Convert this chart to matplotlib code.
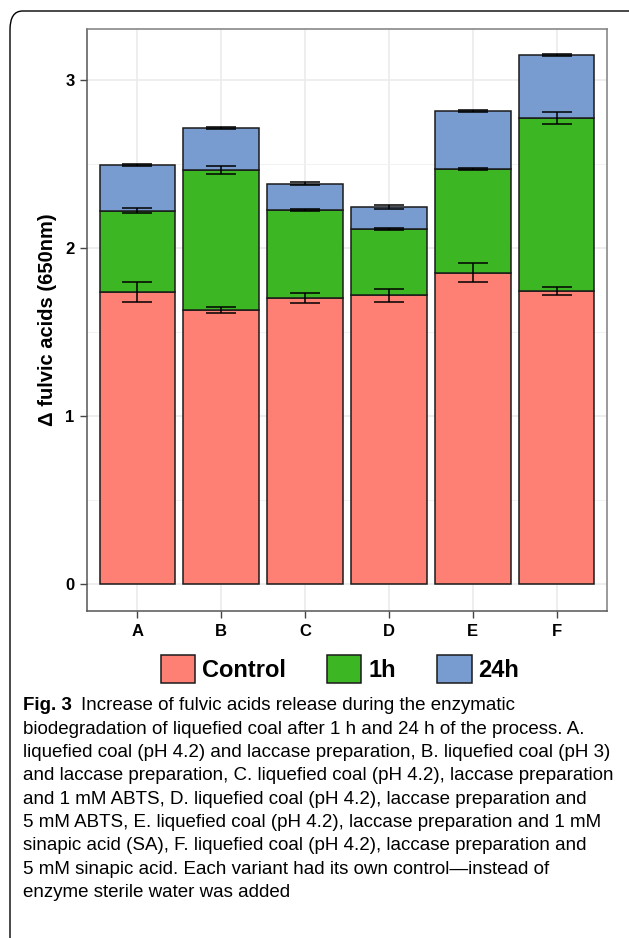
import numpy as np
import matplotlib
matplotlib.use("Agg")
import matplotlib.pyplot as plt
from matplotlib.patches import FancyBboxPatch, Patch

# Valores lidos por variante (incremento de cada etapa)
variantes = ["A", "B", "C", "D", "E", "F"]
controle = [1.738, 1.631, 1.704, 1.718, 1.853, 1.744]
total_1h = [2.222, 2.466, 2.224, 2.113, 2.468, 2.774]
total_24h = [2.494, 2.714, 2.383, 2.244, 2.815, 3.149]
erro_controle = [0.060, 0.020, 0.030, 0.040, 0.058, 0.021]
erro_1h = [0.016, 0.024, 0.006, 0.006, 0.006, 0.036]
erro_24h = [0.006, 0.004, 0.008, 0.010, 0.006, 0.005]

legendas = ["Control", "1h", "24h"]
cores = ["#FE7F74", "#3DB623", "#789BD0"]

legenda_fig = [
    "Increase of fulvic acids release during the enzymatic",
    "biodegradation of liquefied coal after 1 h and 24 h of the process. A.",
    "liquefied coal (pH 4.2) and laccase preparation, B. liquefied coal (pH 3)",
    "and laccase preparation, C. liquefied coal (pH 4.2), laccase preparation",
    "and 1 mM ABTS, D. liquefied coal (pH 4.2), laccase preparation and",
    "5 mM ABTS, E. liquefied coal (pH 4.2), laccase preparation and 1 mM",
    "sinapic acid (SA), F. liquefied coal (pH 4.2), laccase preparation and",
    "5 mM sinapic acid. Each variant had its own control\u2014instead of",
    "enzyme sterile water was added",
]

W, H = 629, 938
fig = plt.figure(figsize=(W / 100, H / 100), dpi=100)

# Moldura arredondada da figura
moldura = FancyBboxPatch((10 / W, 1 - 990 / H), 640 / W, 979 / H,
                         boxstyle="round,pad=0,rounding_size=0.02",
                         transform=fig.transFigure, fill=False,
                         edgecolor="black", linewidth=1.0)
fig.patches.append(moldura)

ax = fig.add_axes([87 / W, 1 - 611 / H, (607 - 87) / W, (611 - 29) / H])

x = np.arange(1, len(variantes) + 1)
c = np.array(controle)
t1 = np.array(total_1h)
t24 = np.array(total_24h)
larg = 0.9

ax.bar(x, c, width=larg, color=cores[0], edgecolor="#1a1a1a", linewidth=1.1, zorder=3)
ax.bar(x, t1 - c, bottom=c, width=larg, color=cores[1], edgecolor="#1a1a1a", linewidth=1.1, zorder=3)
ax.bar(x, t24 - t1, bottom=t1, width=larg, color=cores[2], edgecolor="#1a1a1a", linewidth=1.1, zorder=3)

for topo, err in [(c, erro_controle), (t1, erro_1h), (t24, erro_24h)]:
    ax.errorbar(x, topo, yerr=err, fmt="none", ecolor="black", elinewidth=1.1,
                capsize=10.5, capthick=1.1, zorder=4)

ax.set_xlim(0.4, 6.6)
ax.set_ylim((584 - 611) / 168, (584 - 29) / 168)
ax.set_xticks(x)
ax.set_xticklabels(variantes)
ax.set_yticks([0, 1, 2, 3])
ax.set_yticks([0.5, 1.5, 2.5], minor=True)

ax.grid(which="major", color="#EBEBEB", linewidth=1.2, zorder=0)
ax.grid(which="minor", axis="y", color="#F2F2F2", linewidth=0.7, zorder=0)
ax.set_axisbelow(True)
for lado in ax.spines.values():
    lado.set_color("#7F7F7F")
    lado.set_linewidth(1.1)
ax.spines["left"].set_color("#555555")
ax.spines["bottom"].set_color("#555555")

ax.tick_params(axis="both", which="major", length=5, width=1, color="#444444",
               labelsize=12, pad=4)
ax.tick_params(axis="y", which="minor", length=0)
for rot in ax.get_xticklabels() + ax.get_yticklabels():
    rot.set_fontweight("bold")
    rot.set_family("Liberation Sans")

ax.set_ylabel("\u0394 fulvic acids (650nm)", fontsize=14.5, fontweight="bold",
              family="Liberation Sans", labelpad=6)

# Legenda abaixo do painel
handles = [Patch(facecolor=cor, edgecolor="#1a1a1a", linewidth=1.1) for cor in cores]
fig.legend(handles, legendas, loc="center", bbox_to_anchor=(340 / W, 1 - 669 / H),
           ncol=3, frameon=False, handlelength=1.45, handleheight=1.45,
           handletextpad=0.3, columnspacing=1.75,
           prop={"family": "Liberation Sans", "weight": "bold", "size": 17})

# Texto da legenda da figura
fam = ["Liberation Sans"]
tam = 13.5
x0 = 23
y0 = 706
passo = 23.3
for i, linha in enumerate(legenda_fig):
    yy = 1 - (y0 + i * passo) / H
    if i == 0:
        t = fig.text(x0 / W, yy, "Fig. 3", fontsize=tam, fontweight="bold",
                     family=fam, va="center", ha="left")
        fig.canvas.draw()
        bb = t.get_window_extent()
        fig.text((bb.x1 + 9) / W, yy, linha, fontsize=tam, family=fam,
                 va="center", ha="left")
    else:
        fig.text(x0 / W, yy, linha, fontsize=tam, family=fam, va="center", ha="left")

fig.savefig("out.png", dpi=100)
